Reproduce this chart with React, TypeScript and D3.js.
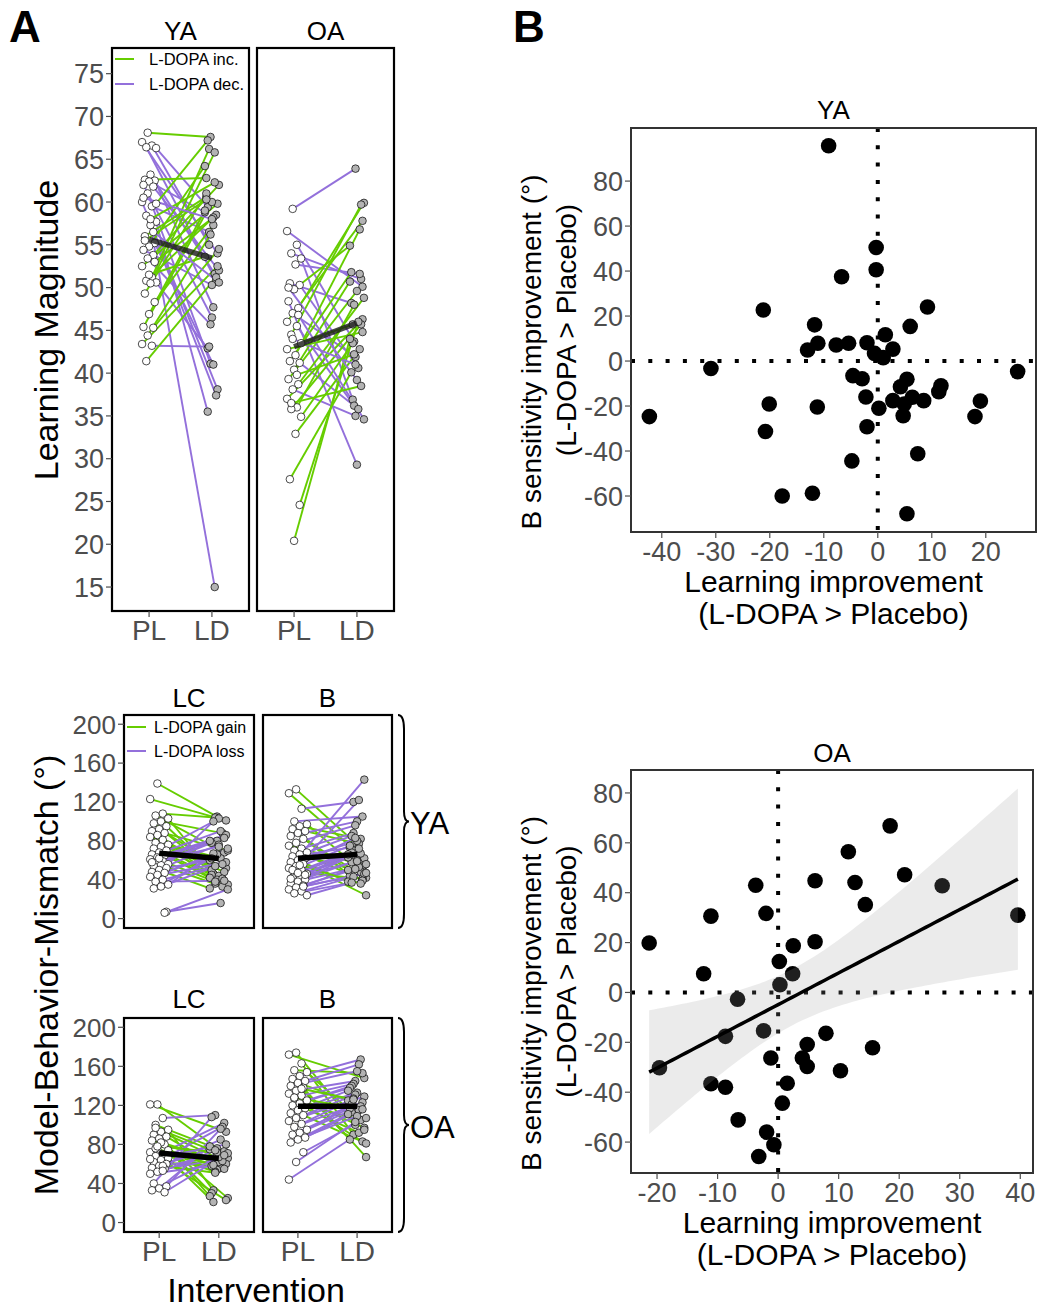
import * as d3 from "d3";

const conds = ["PL", "LD"];

// A top: learning magnitude, placebo (PL) vs L-DOPA (LD), one entry per subject
const yaLearnPL = [68.1, 67.0, 66.6, 66.4, 66.3, 63.2, 62.6, 62.5, 62.4, 62.0, 61.8, 61.0, 60.0, 59.5, 58.4, 57.7, 57.3, 56.0, 55.2, 54.8, 54.4, 53.8, 53.4, 52.5, 51.2, 50.8, 50.6, 50.5, 49.3, 48.3, 46.9, 45.4, 45.3, 44.4, 43.4, 43.2, 41.4, 59.8, 58.0, 55.5, 53.0, 51.5, 60.5, 56.5];
const yaLearnLD = [67.6, 54.0, 55.0, 50.8, 59.4, 51.6, 62.8, 47.7, 58.8, 46.5, 52.0, 41.1, 38.1, 56.5, 37.4, 35.5, 15.0, 60.6, 41.0, 64.2, 50.3, 62.0, 45.7, 59.8, 66.2, 58.5, 42.9, 65.8, 61.0, 57.3, 59.0, 60.0, 54.5, 56.2, 52.5, 43.1, 51.2, 67.2, 62.3, 60.3, 58.2, 53.6, 58.0, 50.6];
const yaLearnInc = [1, 0, 0, 0, 0, 0, 1, 0, 0, 0, 0, 0, 0, 0, 0, 0, 0, 1, 0, 1, 0, 1, 0, 1, 1, 1, 0, 1, 1, 1, 1, 1, 1, 1, 1, 0, 1, 1, 1, 1, 1, 1, 0, 0];

const oaLearnPL = [59.2, 56.6, 55.0, 54.0, 53.4, 52.7, 50.5, 50.3, 49.8, 48.4, 47.6, 47.0, 46.0, 45.5, 44.5, 43.5, 42.1, 41.4, 41.2, 40.4, 39.3, 38.7, 38.1, 37.0, 36.0, 35.8, 34.9, 32.9, 27.6, 24.6, 20.4, 50.0, 46.8, 44.0, 42.8, 39.8, 36.5];
const oaLearnLD = [63.9, 50.1, 43.7, 51.0, 36.9, 51.6, 48.2, 40.6, 54.9, 29.3, 59.9, 41.9, 57.8, 36.2, 59.7, 45.7, 56.8, 51.8, 35.8, 50.7, 49.6, 48.8, 35.0, 46.3, 48.0, 45.7, 43.5, 42.8, 40.1, 46.0, 44.0, 39.2, 34.6, 41.0, 44.8, 42.2, 38.5];
const oaLearnInc = [0, 0, 0, 0, 0, 0, 0, 0, 1, 0, 1, 0, 1, 0, 1, 1, 1, 1, 0, 1, 1, 1, 0, 1, 1, 1, 1, 1, 1, 1, 1, 0, 0, 0, 1, 1, 1];

// A bottom: model-behavior mismatch (deg)
const yaLcPL = [139, 123, 108, 106, 103, 100, 98, 95, 92, 90, 88, 86, 84, 81, 78, 76, 74, 72, 70, 68, 66, 65, 63, 61, 59, 57, 56, 55, 54, 52, 50, 48, 47, 45, 43, 40, 38, 35, 33, 31, 7, 62, 58, 6];
const yaLcLD = [105, 101, 104, 68, 46, 88, 50, 43, 60, 44, 70, 40, 52, 36, 48, 64, 41, 45, 90, 42, 103, 35, 80, 86, 38, 83, 100, 33, 78, 62, 31, 76, 72, 66, 58, 54, 39, 67, 56, 62, 16, 80, 74, 30];
const yaBPL = [133, 129, 113, 100, 97, 95, 92, 90, 88, 85, 82, 78, 75, 72, 70, 68, 66, 64, 62, 60, 58, 56, 54, 52, 50, 48, 46, 44, 42, 40, 38, 36, 34, 32, 30, 28, 26, 24, 55, 50, 45, 47, 41, 33];
const yaBLD = [78, 62, 120, 105, 58, 82, 44, 77, 50, 100, 42, 96, 55, 88, 40, 85, 48, 73, 122, 38, 80, 24, 83, 143, 70, 41, 68, 67, 65, 53, 63, 60, 56, 51, 46, 43, 39, 37, 36, 75, 72, 66, 59, 47];
const oaLcPL = [121, 121, 107, 100, 95, 93, 90, 88, 86, 84, 80, 75, 72, 70, 68, 66, 64, 62, 60, 58, 56, 55, 52, 50, 58, 76, 74, 82, 40, 37, 35, 33, 31, 78, 65, 53, 97];
const oaLcLD = [76, 93, 110, 73, 33, 64, 30, 56, 27, 62, 25, 54, 23, 52, 102, 21, 98, 58, 85, 75, 68, 66, 70, 60, 51, 55, 59, 63, 108, 96, 78, 67, 71, 72, 80, 74, 69];
const oaBPL = [174, 172, 163, 156, 154, 150, 147, 145, 143, 140, 138, 135, 132, 130, 127, 125, 122, 120, 117, 115, 112, 110, 107, 104, 101, 98, 95, 92, 90, 87, 85, 82, 72, 62, 44, 137, 128];
const oaBLD = [100, 148, 90, 153, 113, 167, 85, 162, 125, 155, 67, 145, 97, 142, 83, 140, 105, 138, 92, 135, 133, 81, 131, 129, 127, 123, 121, 119, 117, 115, 111, 109, 107, 103, 95, 126, 116];

// B: improvement (L-DOPA > Placebo)
const yaImpLearn = [-9.1, -0.3, -0.3, -6.7, -21.2, 9.2, -11.7, 6.0, 1.4, -11.1, -7.7, -5.4, -2.0, -13.0, 2.8, -0.6, 1.0, -30.9, 25.9, -4.6, -2.9, 5.4, 4.2, 11.7, 11.3, -2.2, 2.8, 6.4, 8.5, 4.9, 0.2, -20.1, -11.2, 19.0, 4.7, -42.3, 18.0, -20.8, -2.0, 7.4, -4.8, -17.7, -12.1, 5.4];
const yaImpB = [95.7, 50.5, 40.6, 37.5, 22.7, 24.0, 16.1, 15.4, 11.7, 7.9, 7.1, 7.9, 8.1, 4.9, 5.3, 3.4, 1.5, -3.3, -4.7, -6.5, -7.9, -8.1, -11.4, -11.0, -13.6, -16.0, -17.6, -16.1, -17.6, -19.1, -21.0, -19.1, -20.4, -17.8, -24.3, -24.7, -24.7, -31.3, -29.2, -41.2, -44.4, -60.0, -58.8, -67.9];
const oaImpLearn = [18.5, 11.6, 20.9, 6.1, 12.7, -3.7, 27.1, 14.4, -11.1, -2.0, 39.6, -21.3, 2.5, 6.1, 0.2, -12.3, 2.4, 0.3, -6.7, -8.7, -2.4, 7.9, 4.8, 15.6, -19.6, -1.2, 4.0, 4.8, 10.3, -11.1, -8.7, 1.5, 0.7, -6.6, -1.9, -0.7, -3.2];
const oaImpB = [66.8, 56.4, 47.2, 44.8, 44.1, 43.0, 42.8, 35.2, 30.6, 31.7, 31.0, 19.8, 18.7, 20.3, 12.4, 7.5, 7.5, 3.1, -2.7, -17.6, -15.4, -16.4, -20.9, -22.2, -30.2, -26.3, -26.3, -29.7, -31.4, -36.6, -38.0, -36.4, -44.4, -51.1, -56.0, -61.1, -65.8];

const learnTicks = [15, 20, 25, 30, 35, 40, 45, 50, 55, 60, 65, 70, 75];
const mismatchTicks = [0, 40, 80, 120, 160, 200];
const yaXTicks = [-40, -30, -20, -10, 0, 10, 20];
const oaXTicks = [-20, -10, 0, 10, 20, 30, 40];
const impYTicks = [-60, -40, -20, 0, 20, 40, 60, 80];

const FONT = "'Liberation Sans', Arial, Helvetica, sans-serif";
const GREEN = "#66CD00";
const PURPLE = "#9370DB";
const TICK = "#4D4D4D";

// deterministic horizontal spread of the dots
const jitter = (i: number, k: number) => (((i * k + 4) % 11) / 10 - 0.5) * 2;

function PairPanel({ left, width, top, bottom, yDomain, pl, ld, inc, jw, meanColor, meanOpacity, title, titleY, xTicks }: any) {
  const x = d3.scalePoint<string>().domain(conds).range([left, left + width]).padding(0.59);
  const y = d3.scaleLinear().domain(yDomain).range([bottom, top]);
  const good = inc || pl.map((p: number, i: number) => (ld[i] < p ? 1 : 0));
  const rows = pl.map((p: number, i: number) => ({
    x1: x("PL")! + jitter(i, 7) * jw,
    y1: y(p),
    x2: x("LD")! + jitter(i, 5) * jw,
    y2: y(ld[i]),
    g: good[i] === 1
  }));
  const m1 = d3.mean(pl) as number;
  const m2 = d3.mean(ld) as number;
  return (
    <g>
      {rows.map((r: any, i: number) => (
        <line key={"l" + i} x1={r.x1} y1={r.y1} x2={r.x2} y2={r.y2} stroke={r.g ? GREEN : PURPLE} strokeWidth={1.9} />
      ))}
      {rows.map((r: any, i: number) => (
        <circle key={"a" + i} cx={r.x1} cy={r.y1} r={3.8} fill="white" stroke="black" strokeWidth={0.7} />
      ))}
      {rows.map((r: any, i: number) => (
        <circle key={"b" + i} cx={r.x2} cy={r.y2} r={3.8} fill="#B3B3B3" stroke="black" strokeWidth={0.7} />
      ))}
      <line x1={x("PL")} y1={y(m1)} x2={x("LD")} y2={y(m2)} stroke={meanColor} strokeOpacity={meanOpacity} strokeWidth={5.5} />
      <rect x={left} y={top} width={width} height={bottom - top} fill="none" stroke="black" strokeWidth={2.2} />
      <text x={left + width / 2} y={titleY} textAnchor="middle" fontSize={26}>{title}</text>
      {xTicks &&
        conds.map(c => (
          <g key={c}>
            <line x1={x(c)} x2={x(c)} y1={bottom} y2={bottom + 6} stroke={TICK} strokeWidth={1.2} />
            <text x={x(c)} y={bottom + xTicks} textAnchor="middle" fontSize={28} fill={TICK}>{c}</text>
          </g>
        ))}
    </g>
  );
}

function YAxis({ left, top, bottom, domain, ticks, size }: any) {
  const y = d3.scaleLinear().domain(domain).range([bottom, top]);
  return (
    <g>
      {ticks.map((t: number) => (
        <g key={t}>
          <line x1={left - 6} x2={left} y1={y(t)} y2={y(t)} stroke={TICK} strokeWidth={1.2} />
          <text x={left - 8} y={y(t)} dy="0.36em" textAnchor="end" fontSize={size} fill={TICK}>{t}</text>
        </g>
      ))}
    </g>
  );
}

function Legend({ x, y, gap, labels, textOffset, size }: any) {
  return (
    <g fontSize={size}>
      {[GREEN, PURPLE].map((c, i) => (
        <g key={c}>
          <line x1={x} x2={x + 19} y1={y + i * gap} y2={y + i * gap} stroke={c} strokeWidth={2} />
          <text x={x + textOffset} y={y + i * gap} dy="0.36em">{labels[i]}</text>
        </g>
      ))}
    </g>
  );
}

function Brace({ x, top, bottom, label, labelY }: any) {
  const m = (top + bottom) / 2;
  const d = `M${x},${top} Q${x + 6},${top} ${x + 6},${top + 14} L${x + 6},${m - 10} Q${x + 6},${m} ${x + 11},${m} Q${x + 6},${m} ${x + 6},${m + 10} L${x + 6},${bottom - 14} Q${x + 6},${bottom} ${x},${bottom}`;
  return (
    <g>
      <path d={d} fill="none" stroke="black" strokeWidth={2} />
      <text x={x + 12} y={labelY} fontSize={31}>{label}</text>
    </g>
  );
}

function Scatter({ left, right, top, bottom, xDomain, yDomain, xTicks, gx, gy, fit, title, titleY }: any) {
  const x = d3.scaleLinear().domain(xDomain).range([left, right]);
  const y = d3.scaleLinear().domain(yDomain).range([bottom, top]);
  let band: any = null;
  if (fit) {
    const n = gx.length;
    const mx = d3.mean(gx) as number;
    const my = d3.mean(gy) as number;
    const sxx = d3.sum(gx, (v: number) => (v - mx) ** 2);
    const sxy = d3.sum(gx.map((v: number, i: number) => (v - mx) * (gy[i] - my)));
    const b = sxy / sxx;
    const a = my - b * mx;
    const s = Math.sqrt(d3.sum(gx.map((v: number, i: number) => (gy[i] - a - b * v) ** 2)) / (n - 2));
    const t = 2.03;
    const [lo, hi] = d3.extent(gx) as [number, number];
    const xs = d3.range(81).map(k => lo + ((hi - lo) * k) / 80);
    const pts = xs.map(v => {
      const se = s * Math.sqrt(1 / n + (v - mx) ** 2 / sxx);
      return { x: v, f: a + b * v, lo: a + b * v - t * se, hi: a + b * v + t * se };
    });
    const area = d3.area<any>().x(d => x(d.x)).y0(d => y(d.lo)).y1(d => y(d.hi));
    const line = d3.line<any>().x(d => x(d.x)).y(d => y(d.f));
    band = (
      <g>
        <path d={area(pts) as string} fill="#999999" fillOpacity={0.2} />
        <path d={line(pts) as string} fill="none" stroke="black" strokeWidth={3.5} />
      </g>
    );
  }
  return (
    <g>
      <line x1={x(0)} x2={x(0)} y1={top} y2={bottom} stroke="black" strokeWidth={4} strokeDasharray="4 13.3" />
      <line x1={left} x2={right} y1={y(0)} y2={y(0)} stroke="black" strokeWidth={4} strokeDasharray="4 13.3" />
      {gx.map((v: number, i: number) => (
        <circle key={i} cx={x(v)} cy={y(gy[i])} r={7.8} fill="black" />
      ))}
      {band}
      <rect x={left} y={top} width={right - left} height={bottom - top} fill="none" stroke="#333" strokeWidth={2} />
      <text x={(left + right) / 2} y={titleY} textAnchor="middle" fontSize={26}>{title}</text>
      {xTicks.map((t: number) => (
        <g key={t}>
          <line x1={x(t)} x2={x(t)} y1={bottom} y2={bottom + 6} stroke={TICK} strokeWidth={1.2} />
          <text x={x(t)} y={bottom + 29} textAnchor="middle" fontSize={27} fill={TICK}>{t}</text>
        </g>
      ))}
      <YAxis left={left} top={top} bottom={bottom} domain={yDomain} ticks={impYTicks} size={27} />
      <text x={(left + right) / 2} y={bottom + 60} textAnchor="middle" fontSize={30}>Learning improvement</text>
      <text x={(left + right) / 2} y={bottom + 92} textAnchor="middle" fontSize={30}>(L-DOPA &gt; Placebo)</text>
      <text transform={`translate(541,${(top + bottom) / 2 + 22}) rotate(-90)`} textAnchor="middle" fontSize={28}>B sensitivity improvement (°)</text>
      <text transform={`translate(576,${(top + bottom) / 2}) rotate(-90)`} textAnchor="middle" fontSize={28}>(L-DOPA &gt; Placebo)</text>
    </g>
  );
}

export default function App() {
  const learnDom = [12.2, 78.0];
  const misDom = [-9.7, 209.5];
  return (
    <svg width={1040} height={1308} style={{ position: "absolute", left: 0, top: 0, background: "white" }} fontFamily={FONT}>
      <rect width={1040} height={1308} fill="white" />
      <text x={9} y={42} fontSize={44} fontWeight="bold">A</text>
      <text x={513} y={42} fontSize={44} fontWeight="bold">B</text>

      {/* learning magnitude */}
      <PairPanel left={112} width={137} top={48} bottom={611} yDomain={learnDom} pl={yaLearnPL} ld={yaLearnLD} inc={yaLearnInc} jw={7} meanColor="#1a1a1a" meanOpacity={0.8} title="YA" titleY={40} xTicks={29} />
      <PairPanel left={257} width={137} top={48} bottom={611} yDomain={learnDom} pl={oaLearnPL} ld={oaLearnLD} inc={oaLearnInc} jw={7} meanColor="#1a1a1a" meanOpacity={0.8} title="OA" titleY={40} xTicks={29} />
      <YAxis left={112} top={48} bottom={611} domain={learnDom} ticks={learnTicks} size={27} />
      <Legend x={115} y={59} gap={25} labels={["L-DOPA inc.", "L-DOPA dec."]} textOffset={34} size={16.5} />
      <text transform="translate(58,330) rotate(-90)" textAnchor="middle" fontSize={34}>Learning Magnitude</text>

      {/* mismatch, YA */}
      <PairPanel left={124} width={130} top={715} bottom={928} yDomain={misDom} pl={yaLcPL} ld={yaLcLD} jw={9} meanColor="black" meanOpacity={1} title="LC" titleY={707} />
      <PairPanel left={263} width={129} top={715} bottom={928} yDomain={misDom} pl={yaBPL} ld={yaBLD} jw={9} meanColor="black" meanOpacity={1} title="B" titleY={707} />
      <YAxis left={124} top={715} bottom={928} domain={misDom} ticks={mismatchTicks} size={26} />
      <Legend x={127} y={727} gap={24} labels={["L-DOPA gain", "L-DOPA loss"]} textOffset={27} size={16} />
      <Brace x={398} top={715} bottom={928} label="YA" labelY={834} />

      {/* mismatch, OA */}
      <PairPanel left={124} width={130} top={1018} bottom={1232} yDomain={misDom} pl={oaLcPL} ld={oaLcLD} jw={9} meanColor="black" meanOpacity={1} title="LC" titleY={1008} xTicks={29} />
      <PairPanel left={263} width={129} top={1018} bottom={1232} yDomain={misDom} pl={oaBPL} ld={oaBLD} jw={9} meanColor="black" meanOpacity={1} title="B" titleY={1008} xTicks={29} />
      <YAxis left={124} top={1018} bottom={1232} domain={misDom} ticks={mismatchTicks} size={26} />
      <Brace x={398} top={1018} bottom={1232} label="OA" labelY={1138} />
      <text transform="translate(58,975) rotate(-90)" textAnchor="middle" fontSize={34}>Model-Behavior-Mismatch (°)</text>
      <text x={256} y={1302} textAnchor="middle" fontSize={34}>Intervention</text>

      {/* B scatter panels */}
      <Scatter left={631} right={1036} top={128} bottom={532} xDomain={[-45.7, 29.3]} yDomain={[-76, 103.6]} xTicks={yaXTicks} gx={yaImpLearn} gy={yaImpB} fit={false} title="YA" titleY={119} />
      <Scatter left={631} right={1033} top={770} bottom={1173} xDomain={[-24.3, 42.1]} yDomain={[-72.4, 89.2]} xTicks={oaXTicks} gx={oaImpLearn} gy={oaImpB} fit={true} title="OA" titleY={762} />
    </svg>
  );
}
